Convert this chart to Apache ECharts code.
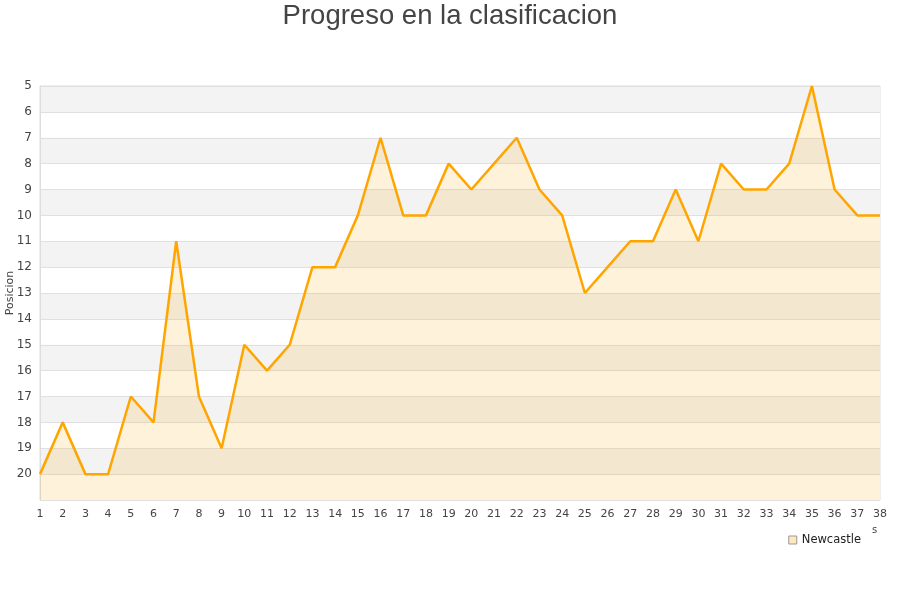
<!DOCTYPE html>
<html>
<head>
<meta charset="utf-8">
<script src="https://cdn.jsdelivr.net/npm/echarts@6/dist/echarts.min.js"></script>
<style>
  html, body { margin: 0; padding: 0; background: #fff; }
  #chart { width: 900px; height: 600px; }
</style>
</head>
<body>
<div id="chart"></div>
<script>
// jornadas 1..38 y posicion del equipo en cada una
var jornadas = [];
for (var i = 1; i <= 38; i++) jornadas.push(String(i));
var posiciones = [20, 18, 20, 20, 17, 18, 11, 17, 19, 15,
                  16, 15, 12, 12, 10, 7, 10, 10, 8, 9,
                  8, 7, 9, 10, 13, 12, 11, 11, 9, 11,
                  8, 9, 9, 8, 5, 9, 10, 10];
var equipo = 'Newcastle';

var myChart = echarts.init(document.getElementById('chart'));
var option = {
    animation: false,
    title: {
        text: 'Progreso en la clasificacion',
        left: 'center',
        top: -3,
        textStyle: {
            color: '#444',
            fontWeight: 'normal',
            fontSize: 27.5,
            fontFamily: 'Liberation Sans'
        }
    },
    legend: {
        data: [{name: equipo, icon: 'rect', itemStyle: {color: '#ffe8bd', borderColor: '#999', borderWidth: 1}}],
        right: 34,
        top: 529,
        itemWidth: 8,
        itemHeight: 8,
        itemGap: 6,
        textStyle: {color: '#222', fontSize: 11.5, fontFamily: 'DejaVu Sans'}
    },
    grid: {
        left: 40,
        right: 20,
        top: 86,
        bottom: 100,
        outerBoundsMode: 'none',
        containLabel: false,
        show: true,
        borderColor: '#ddd',
        borderWidth: 1
    },
    xAxis: {
        type: 'category',
        data: jornadas,
        boundaryGap: false,
        axisLine: {show: false},
        axisTick: {show: false},
        splitLine: {show: false},
        axisLabel: {
            interval: 0,
            color: '#444',
            fontSize: 11,
            fontFamily: 'DejaVu Sans',
            margin: 9
        }
    },
    yAxis: {
        type: 'value',
        inverse: true,
        min: 5,
        max: 21,
        interval: 1,
        name: 'Posicion',
        nameLocation: 'middle',
        nameGap: 24,
        nameMoveOverlap: false,
        nameTextStyle: {color: '#444', fontSize: 11, fontFamily: 'DejaVu Sans'},
        axisLine: {show: true, lineStyle: {color: '#ddd'}},
        axisTick: {show: false},
        axisLabel: {
            color: '#444',
            fontSize: 12,
            fontFamily: 'DejaVu Sans',
            margin: 8,
            formatter: function (v) { return v === 21 ? '' : v; }
        },
        splitLine: {show: true, lineStyle: {color: '#e0e0e0'}},
        splitArea: {show: true, areaStyle: {color: ['#f3f3f3', '#ffffff']}}
    },
    series: [{
        name: equipo,
        type: 'line',
        data: posiciones,
        symbol: 'none',
        lineStyle: {color: '#ffa500', width: 2.5},
        itemStyle: {color: '#ffe8bd'},
        areaStyle: {color: 'rgba(255,165,0,0.2)', origin: 'end'}
    }],
    graphic: [{
        type: 'text',
        left: 872,
        top: 525,
        style: {text: 's', fill: '#444', fontSize: 10, fontFamily: 'DejaVu Sans'}
    }]
};
myChart.setOption(option);
</script>
</body>
</html>
